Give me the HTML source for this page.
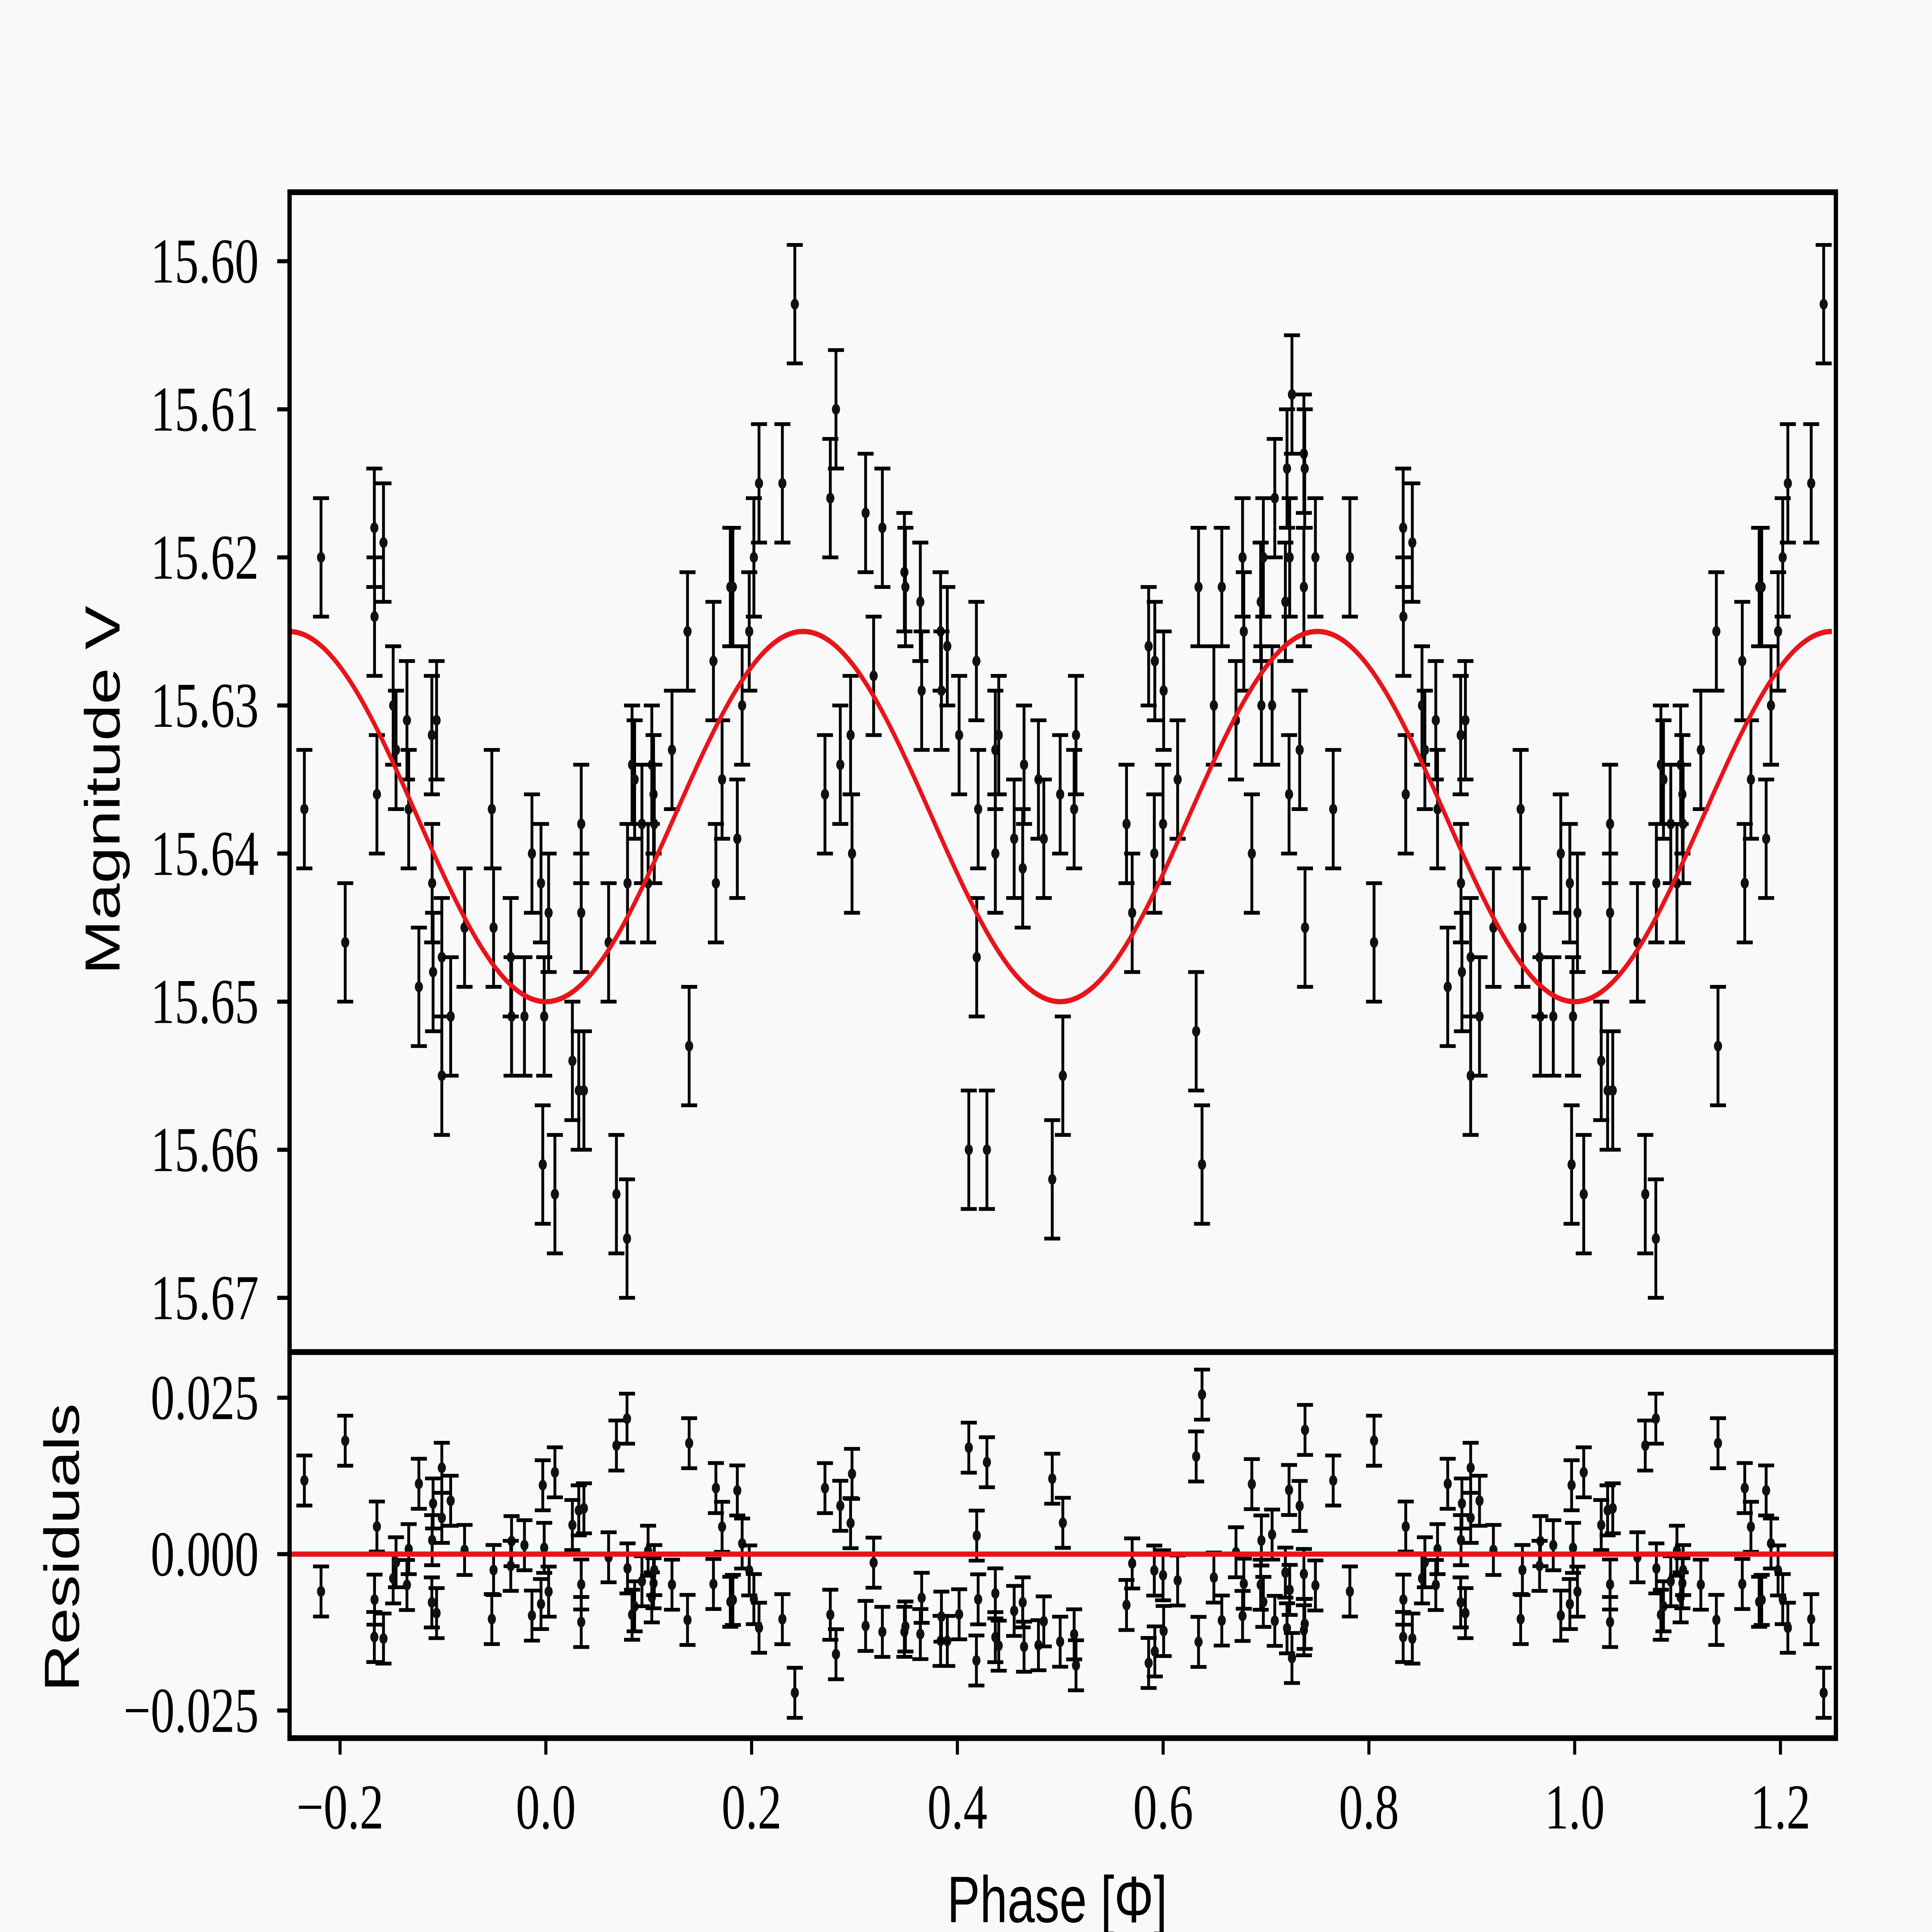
<!DOCTYPE html>
<html><head><meta charset="utf-8"><title>Phase light curve</title>
<style>
html,body{margin:0;padding:0;background:#f9f9f9;overflow:hidden;width:100vw;height:100vh;}
svg{display:block;width:100vw;height:100vh;}
.tick{font-family:"Liberation Serif",serif;font-size:39px;fill:#000;}
.lab{font-family:"Liberation Sans",sans-serif;font-size:40px;fill:#000;}
</style></head>
<body>
<svg id="chart" viewBox="0 0 1568 1176" preserveAspectRatio="none" xmlns="http://www.w3.org/2000/svg">
<rect x="0" y="0" width="1568" height="1176" fill="#f9f9f9"/>
<g id="main"></g>
<g id="resid"></g>
<g id="axes"></g>
<text class="lab" transform="translate(97,481) rotate(-90)" text-anchor="middle">Magnitude V</text>
<text class="lab" transform="translate(64,942) rotate(-90)" text-anchor="middle">Residuals</text>
<text class="lab" x="858" y="1170" text-anchor="middle">Phase [Φ]</text>
</svg>
<script>
const phases = [0.9865,0.9953,0.0027,0.9984,0.9970,0.0088,0.9792,0.9667,0.9659,
0.0258,0.0320,0.0370,0.0344,0.0344,0.0610,0.0686,0.0789,0.0794,0.0838,0.0863,0.0934,0.0994,0.1030,0.1047,0.1054,0.1226,0.1377,0.1393,0.1629,0.1653,0.1713,0.1793,0.1818,0.1861,0.1908,0.1977,0.2022,0.2072,0.2299,0.2420,
0.2713,0.2765,0.2820,0.2862,0.2962,0.2976,0.3108,0.3186,0.3271,0.3485,0.3495,0.3640,0.3653,0.3837,0.3902,0.3845,0.4017,0.4111,0.4185,0.4188,0.4202,0.4287,0.4369,0.4402,0.4369,0.4552,0.4635,0.4648,0.4788,0.4840,0.4922,0.4999,0.5025,
0.5135,0.5153,0.5644,0.5699,0.5859,0.5914,0.5919,0.5999,0.6005,0.6141,0.6321,0.6344,0.6378,0.6493,0.6570,0.6708,0.6772,0.6784,0.6862,0.6948,0.6955,0.6974,0.7059,0.7085,0.7188,0.7204,0.7224,0.7230,0.7252,0.7327,0.7368,0.7376,0.7368,0.7379,0.7480,
0.7653,0.7815,0.8050,0.8333,0.8335,0.8358,0.8422,0.8516,0.8544,0.8650,0.8667,0.8766,0.8892,0.8895,0.8904,0.8938,0.8989,0.8989,0.9075,0.9210,0.9475,0.9492];
const mags = [15.640,15.642,15.644,15.651,15.661,15.663,15.651,15.651,15.647,
15.654,15.656,15.656,15.638,15.644,15.646,15.663,15.666,15.642,15.634,15.635,15.638,15.642,15.634,15.636,15.638,15.633,15.625,15.653,15.627,15.642,15.635,15.622,15.622,15.639,15.630,15.625,15.620,15.615,15.615,15.6029,
15.636,15.616,15.610,15.634,15.632,15.640,15.617,15.628,15.618,15.621,15.622,15.623,15.629,15.625,15.626,15.629,15.632,15.660,15.627,15.647,15.637,15.660,15.633,15.632,15.640,15.639,15.641,15.634,15.635,15.639,15.662,15.636,15.655,
15.637,15.632,15.638,15.644,15.626,15.640,15.627,15.638,15.629,15.635,15.652,15.622,15.661,15.630,15.622,15.631,15.620,15.625,15.640,15.623,15.630,15.620,15.630,15.616,15.623,15.614,15.636,15.620,15.609,15.633,15.613,15.614,15.622,15.645,15.620,
15.637,15.620,15.646,15.618,15.624,15.636,15.619,15.630,15.633,15.631,15.637,15.649,15.632,15.642,15.648,15.631,15.647,15.655,15.651,15.645,15.637,15.645];
const errors = [0.004];
const modelMean = [15.6375];
const modelAmp = [0.0125];
const xTicks = [-0.2,0.0,0.2,0.4,0.6,0.8,1.0,1.2];
const xTickLabels = ["−0.2","0.0","0.2","0.4","0.6","0.8","1.0","1.2"];
const yTicks = [15.60,15.61,15.62,15.63,15.64,15.65,15.66,15.67];
const yTickLabels = ["15.60","15.61","15.62","15.63","15.64","15.65","15.66","15.67"];
const rTicks = [0.025,0.0,-0.025];
const rTickLabels = ["0.025","0.000","−0.025"];

const NS="http://www.w3.org/2000/svg";
const L=235,R=1490,T=117,MB=823,RB=1058;
function xs(p){return 443+835*p;}
function ys(m){return 159+(m-15.60)*9014;}
function rs(r){return 946-r*3808;}
function model(p){return modelMean[0]+modelAmp[0]*Math.cos(4*Math.PI*p);}
function mk(tag,parent,attrs){const e=document.createElementNS(NS,tag);for(const k in attrs)e.setAttribute(k,attrs[k]);parent.appendChild(e);return e;}

const main=document.getElementById('main'),resid=document.getElementById('resid'),axes=document.getElementById('axes');

function errbar(g,x,y,h,name){
  const grp=mk('g',g,{});
  
  
  mk('line',grp,{x1:x,x2:x,y1:y-h,y2:y+h,stroke:'#000','stroke-width':2.3});
  mk('line',grp,{x1:x-6.5,x2:x+6.5,y1:y-h,y2:y-h,stroke:'#000','stroke-width':2.3});
  mk('line',grp,{x1:x-6.5,x2:x+6.5,y1:y+h,y2:y+h,stroke:'#000','stroke-width':2.3});
  mk('circle',grp,{cx:x,cy:y,r:3.3,fill:'#111'});
}

for(let i=0;i<phases.length;i++){
  for(const off of [-1,0,1]){
    const p=phases[i]+off;
    if(p< -0.25||p>1.25) continue;
    const m=mags[i];
    const e=errors[0];
    errbar(main,xs(p),ys(m),ys(m+e)-ys(m),'data-point');
    const r=m-model(phases[i]);
    errbar(resid,xs(p),rs(r),rs(-e)-rs(0),'residual-point');
  }
}

let d='';
for(let k=0;k<=600;k++){const p=-0.25+1.5*k/600;d+=(k?'L':'M')+xs(p).toFixed(2)+','+ys(model(p)).toFixed(2);}
const curve=mk('path',main,{d:d,fill:'none',stroke:'#e8141a','stroke-width':3.2});


const zl=mk('line',resid,{x1:L,x2:R,y1:rs(0),y2:rs(0),stroke:'#e8141a','stroke-width':3.2});



const f1=mk('rect',axes,{x:L,y:T,width:R-L,height:MB-T,fill:'none',stroke:'#000','stroke-width':3.5});


const f2=mk('rect',axes,{x:L,y:MB,width:R-L,height:RB-MB,fill:'none',stroke:'#000','stroke-width':3.5});



yTicks.forEach((v,i)=>{
  const y=ys(v);
  const t=mk('line',axes,{x1:L-10,x2:L,y1:y,y2:y,stroke:'#000','stroke-width':2.5});
  
  
  const tx=mk('text',axes,{x:210,y:y+13,'text-anchor':'end',class:'tick'});
  
  
  tx.textContent=yTickLabels[i];
});
rTicks.forEach((v,i)=>{
  const y=rs(v);
  const t=mk('line',axes,{x1:L-10,x2:L,y1:y,y2:y,stroke:'#000','stroke-width':2.5});
  
  
  const tx=mk('text',axes,{x:210,y:y+13,'text-anchor':'end',class:'tick'});
  
  
  tx.textContent=rTickLabels[i];
});
xTicks.forEach((v,i)=>{
  const x=xs(v);
  const t=mk('line',axes,{x1:x,x2:x,y1:RB,y2:RB+10,stroke:'#000','stroke-width':2.5});
  
  
  const tx=mk('text',axes,{x:x,y:1113,'text-anchor':'middle',class:'tick'});
  
  
  tx.textContent=xTickLabels[i];
});
</script>
</body></html>
